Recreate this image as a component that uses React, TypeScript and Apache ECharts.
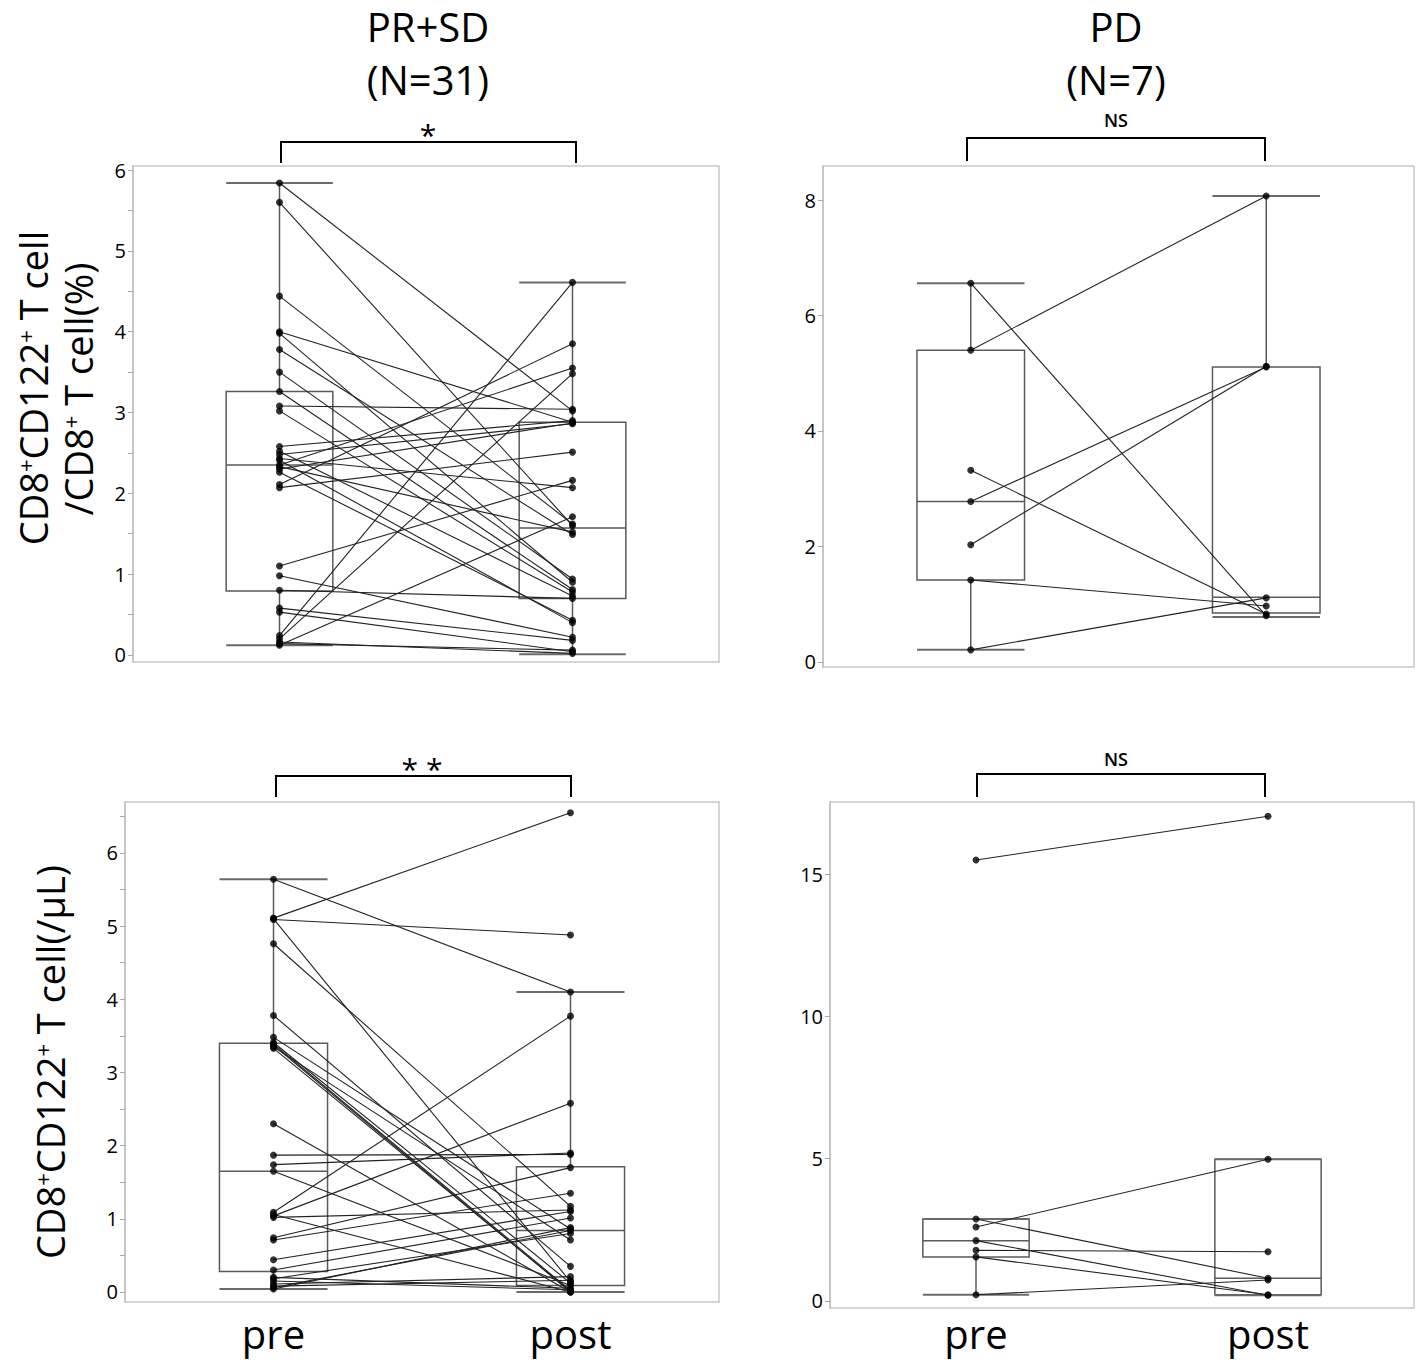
import React, { useEffect, useRef } from "react";
import * as echarts from "echarts";

const groups = ["pre", "post"];

// Top-left: PR+SD, CD8+CD122+/CD8+ (%) — paired values (index i = same patient)
const ratioSdPre = [5.84, 5.60, 4.44, 4.00, 3.98, 3.78, 3.50, 3.26, 3.08, 3.02, 2.58, 2.52, 2.48, 2.43, 2.41, 2.35, 2.33, 2.30, 2.26, 2.11, 2.07, 1.10, 0.98, 0.80, 0.58, 0.53, 0.24, 0.20, 0.16, 0.14, 0.12];
const ratioSdPost = [3.02, 1.60, 1.62, 2.88, 0.90, 1.49, 0.94, 0.81, 3.04, 0.78, 2.90, 0.73, 2.86, 2.07, 0.40, 3.55, 1.52, 2.87, 0.43, 3.85, 2.51, 2.16, 0.22, 0.70, 0.18, 0.04, 4.61, 3.48, 0.02, 0.06, 1.71];
// box stats: [min, q1, median, q3, max]
const ratioSdBoxPre = [0.12, 0.79, 2.35, 3.26, 5.84];
const ratioSdBoxPost = [0.01, 0.70, 1.57, 2.88, 4.61];

// Top-right: PD, ratio (%)
const ratioPdPre = [6.56, 5.40, 3.32, 2.78, 2.03, 1.42, 0.21];
const ratioPdPost = [0.80, 8.07, 0.83, 5.11, 5.12, 0.97, 1.11];
const ratioPdBoxPre = [0.21, 1.42, 2.78, 5.40, 6.56];
const ratioPdBoxPost = [0.78, 0.85, 1.12, 5.11, 8.07];

// Bottom-left: PR+SD, count (/µL)
const countSdPre = [5.64, 5.11, 5.10, 5.09, 4.76, 3.78, 3.48, 3.41, 3.39, 3.37, 3.35, 3.33, 2.30, 1.87, 1.74, 1.65, 1.09, 1.06, 1.04, 1.02, 0.74, 0.71, 0.44, 0.30, 0.20, 0.18, 0.15, 0.11, 0.08, 0.06, 0.04];
const countSdPost = [4.10, 6.55, 0.14, 4.88, 1.17, 0.35, 0.86, 0.12, 0.02, 0.00, 0.71, 0.01, 0.00, 1.88, 1.90, 0.09, 3.77, 0.00, 2.58, 1.12, 1.70, 1.35, 1.10, 1.01, 0.05, 0.80, 0.03, 0.21, 0.16, 0.84, 0.88];
const countSdBoxPre = [0.04, 0.28, 1.65, 3.40, 5.64];
const countSdBoxPost = [0.00, 0.09, 0.84, 1.71, 4.10];

// Bottom-right: PD, count (/µL)
const countPdPre = [15.49, 2.88, 2.60, 2.12, 1.78, 1.55, 0.22];
const countPdPost = [17.03, 0.80, 4.98, 0.20, 1.73, 0.22, 0.74];
const countPdBoxPre = [0.22, 1.55, 2.12, 2.88, 2.88];
const countPdBoxPost = [0.20, 0.22, 0.80, 4.98, 4.98];

// Axis ticks / labels
const ticksA = [0, 0.5, 1, 1.5, 2, 2.5, 3, 3.5, 4, 4.5, 5, 5.5, 6];
const labelsA = [0, 1, 2, 3, 4, 5, 6];
const ticksB = [0, 2, 4, 6, 8];
const labelsB = [0, 2, 4, 6, 8];
const ticksC = [0, 0.5, 1, 1.5, 2, 2.5, 3, 3.5, 4, 4.5, 5, 5.5, 6, 6.5];
const labelsC = [0, 1, 2, 3, 4, 5, 6];
const ticksD = [0, 5, 10, 15];
const labelsD = [0, 5, 10, 15];

const FONT = "'Open Sans', 'Noto Sans', sans-serif";
const BOX_HALF = 0.182;

const panels = [
  { pre: ratioSdPre, post: ratioSdPost, boxPre: ratioSdBoxPre, boxPost: ratioSdBoxPost, grid: { left: 133, top: 166, width: 586, height: 496 }, min: -0.087, max: 6.05, ticks: ticksA, labels: labelsA, xLabels: false, xMargin: 0 },
  { pre: ratioPdPre, post: ratioPdPost, boxPre: ratioPdBoxPre, boxPost: ratioPdBoxPost, grid: { left: 823, top: 166, width: 591, height: 501 }, min: -0.087, max: 8.589, ticks: ticksB, labels: labelsB, xLabels: false, xMargin: 0 },
  { pre: countSdPre, post: countSdPost, boxPre: countSdBoxPre, boxPost: countSdBoxPost, grid: { left: 125, top: 802, width: 594, height: 500 }, min: -0.137, max: 6.697, ticks: ticksC, labels: labelsC, xLabels: true, xMargin: 11 },
  { pre: countPdPre, post: countPdPost, boxPre: countPdBoxPre, boxPost: countPdBoxPost, grid: { left: 830, top: 802, width: 584, height: 506 }, min: -0.246, max: 17.53, ticks: ticksD, labels: labelsD, xLabels: true, xMargin: 5 },
];

function renderBox(params: any, api: any) {
  const x = api.value(0);
  const lo = api.value(1), q1 = api.value(2), med = api.value(3), q3 = api.value(4), hi = api.value(5);
  const L = (v: number) => api.coord([x - BOX_HALF, v]);
  const R = (v: number) => api.coord([x + BOX_HALF, v]);
  const C = (v: number) => api.coord([x, v]);
  const boxStyle = { stroke: "#5a5a5a", lineWidth: 1.5, fill: "none" };
  const capStyle = { stroke: "#6a6a6a", lineWidth: 2, fill: "none" };
  const hline = (v: number, st: any) => ({ type: "line", shape: { x1: L(v)[0], y1: L(v)[1], x2: R(v)[0], y2: R(v)[1] }, style: st });
  const vline = (a: number, b: number) => ({ type: "line", shape: { x1: C(a)[0], y1: C(a)[1], x2: C(b)[0], y2: C(b)[1] }, style: boxStyle });
  return {
    type: "group",
    children: [
      { type: "rect", shape: { x: L(q3)[0], y: L(q3)[1], width: R(q3)[0] - L(q3)[0], height: L(q1)[1] - L(q3)[1] }, style: boxStyle },
      hline(med, boxStyle),
      vline(q3, hi),
      vline(q1, lo),
      hline(hi, capStyle),
      hline(lo, capStyle),
    ],
  };
}

export default function App() {
  const ref = useRef<HTMLDivElement>(null);
  useEffect(() => {
    document.body.style.margin = "0";
    const chart = echarts.init(ref.current!, null, { renderer: "svg" });
    const grid: any[] = [];
    const xAxis: any[] = [];
    const yAxis: any[] = [];
    const series: any[] = [];
    panels.forEach((p, i) => {
      grid.push({ ...p.grid, show: true, borderColor: "#c8c8c8", borderWidth: 1.5, backgroundColor: "transparent" });
      xAxis.push({
        gridIndex: i, type: "value", min: -0.5, max: 1.5,
        axisLine: { show: false, onZero: false }, axisTick: { show: false }, splitLine: { show: false },
        axisLabel: p.xLabels
          ? { show: true, customValues: [0, 1], formatter: (v: number) => groups[v], color: "#000", fontSize: 40, fontFamily: FONT, margin: p.xMargin }
          : { show: false },
      });
      yAxis.push({
        gridIndex: i, type: "value", min: p.min, max: p.max,
        axisLine: { show: true, onZero: false, lineStyle: { color: "#c0c0c0", width: 1.5 } },
        axisTick: { show: true, customValues: p.ticks, length: 5, lineStyle: { color: "#a8a8a8" } },
        axisLabel: { customValues: p.labels, color: "#000", fontSize: 20, fontFamily: FONT, margin: 7 },
        splitLine: { show: false },
      });
      series.push({
        type: "custom", xAxisIndex: i, yAxisIndex: i, z: 1, silent: true,
        renderItem: renderBox,
        encode: { x: 0, y: [1, 2, 3, 4, 5] },
        data: [[0, ...p.boxPre], [1, ...p.boxPost]],
      });
      series.push({
        type: "lines", coordinateSystem: "cartesian2d", xAxisIndex: i, yAxisIndex: i, z: 2, silent: true,
        lineStyle: { color: "#222", width: 1.1, opacity: 1 },
        data: p.pre.map((v, k) => ({ coords: [[0, v], [1, p.post[k]]] })),
      });
      series.push({
        type: "scatter", xAxisIndex: i, yAxisIndex: i, z: 3, silent: true,
        symbol: "circle", symbolSize: 7, itemStyle: { color: "#000" },
        data: [...p.pre.map((v) => [0, v]), ...p.post.map((v) => [1, v])],
      });
    });

    const bracket = (x1: number, x2: number, y: number, yb: number) => ({
      type: "polyline", shape: { points: [[x1, yb], [x1, y], [x2, y], [x2, yb]] },
      style: { stroke: "#000", lineWidth: 2, fill: null },
    });
    const txt = (x: number, y: number, text: string, size: number, weight: any = "normal") => ({
      type: "text", x, y,
      style: { text, font: `${weight} ${size}px ${FONT}`, fill: "#000", align: "center", verticalAlign: "middle" },
    });
    const rich = {
      n: { fontSize: 38, fontFamily: FONT, color: "#000" },
      s: { fontSize: 22, fontFamily: FONT, color: "#000", verticalAlign: "top" },
    };
    const vtxt = (x: number, y: number, text: string) => ({
      type: "text", x, y, rotation: Math.PI / 2,
      style: { text, rich, fill: "#000", align: "center", verticalAlign: "middle" },
    });

    const graphic: any[] = [
      txt(428, 26, "PR+SD", 40),
      txt(428, 79, "(N=31)", 40),
      txt(1116, 26, "PD", 40),
      txt(1116, 79, "(N=7)", 40),
      bracket(281, 576, 142, 163),
      bracket(967, 1265, 138, 161),
      bracket(276, 571, 776, 797),
      bracket(977, 1265, 774, 797),
      txt(428, 134, "*", 30),
      txt(1116, 120, "NS", 18, 600),
      txt(422, 768, "* *", 30),
      txt(1116, 759, "NS", 18, 600),
      vtxt(33, 388, "{n|CD8}{s|+}{n|CD122}{s|+}{n| T cell}"),
      vtxt(78, 389, "{n|/CD8}{s|+}{n| T cell(%)}"),
      vtxt(50, 1062, "{n|CD8}{s|+}{n|CD122}{s|+}{n| T cell(/μL)}"),
    ];

    chart.setOption({ animation: false, grid, xAxis, yAxis, series, graphic });
    return () => chart.dispose();
  }, []);
  return <div ref={ref} style={{ width: 1417, height: 1366 }} />;
}
